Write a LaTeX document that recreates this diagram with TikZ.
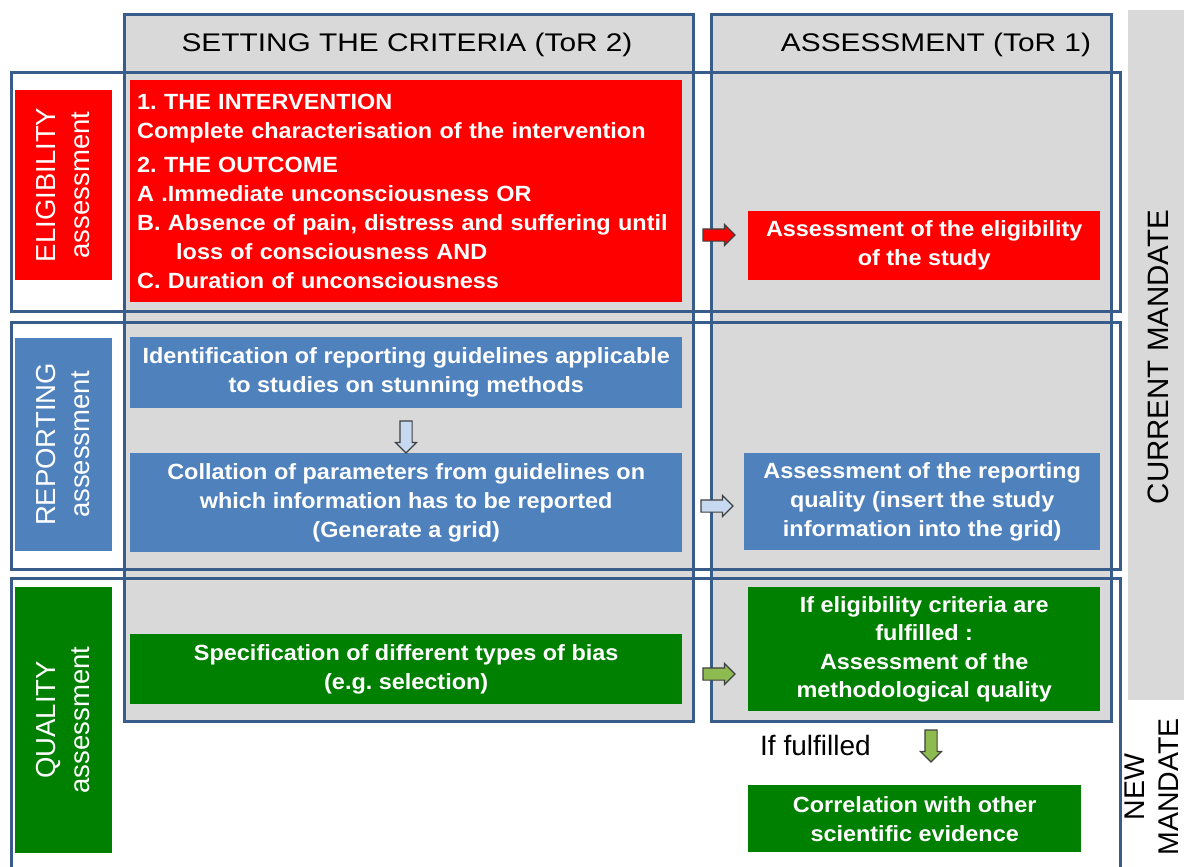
\documentclass[tikz,border=0pt]{standalone}
\usepackage{fontspec}
\setmainfont{Liberation Sans}
\newfontfamily\headfont{Liberation Sans}[FakeStretch=1.17]
\newfontfamily\boxfont{Liberation Sans}[FakeStretch=1.065]
\frenchspacing
\usetikzlibrary{shapes.arrows}
\definecolor{framecol}{HTML}{385D8A}
\definecolor{panelgray}{HTML}{D9D9D9}
\definecolor{eligred}{HTML}{FF0000}
\definecolor{repblue}{HTML}{4F81BD}
\definecolor{qualgreen}{HTML}{008000}
\definecolor{arrowblue}{HTML}{C6D9F1}
\definecolor{arrowgreen}{HTML}{8DBB4F}
\definecolor{arrowedge}{HTML}{404040}
\tikzset{
  colframe/.style={draw=framecol, line width=3pt, fill=panelgray, inner sep=0pt, anchor=north west},
  rowframe/.style={draw=framecol, line width=3pt, inner sep=0pt, anchor=north west},
  stagebox/.style={text=white, inner sep=0pt, align=center, anchor=north west,
     font=\boxfont\bfseries\fontsize{22}{29}\selectfont},
  sidelabel/.style={rotate=90, text=white, inner sep=0pt, align=center,
     font=\fontsize{27.5}{34}\selectfont},
  headtext/.style={font=\headfont\fontsize{25.5}{30}\selectfont},
  mandatetext/.style={rotate=90, align=center, inner sep=0pt, font=\fontsize{29.5}{35}\selectfont},
  blockarrow/.style={single arrow, draw=arrowedge, line width=1.2pt, inner xsep=0pt,
     inner ysep=5.5pt, single arrow head extend=4.5pt, minimum height=32pt},
}
\begin{document}
\begin{tikzpicture}[x=1pt,y=-1pt]
\useasboundingbox (0,0) rectangle (1184,867);
\clip (0,0) rectangle (1184,867);

% mandate strip on the right
\node[fill=panelgray, inner sep=0pt, anchor=north west, minimum width=60, minimum height=690] (curstrip) at (1128,10) {};
\node[mandatetext] (curlabel) at (1158,357) {CURRENT MANDATE};
\node[mandatetext, font=\fontsize{28.5}{34}\selectfont] (newlabel) at (1152,787) {NEW\\MANDATE};

% the two columns
\node[colframe, minimum width=569, minimum height=707] (critcol) at (123,13) {};
\node[colframe, minimum width=400, minimum height=707] (assesscol) at (710,13) {};
\node[headtext] (crithead) at (407,45) {SETTING THE CRITERIA (ToR 2)};
\node[headtext] (assesshead) at (936,45) {ASSESSMENT (ToR 1)};

% the three rows
\node[rowframe, minimum width=1109, minimum height=239] (eligrow) at (10,71) {};
\node[rowframe, minimum width=1109, minimum height=247] (reprow) at (10,321) {};
\node[rowframe, minimum width=1109, minimum height=320] (qualrow) at (10,577) {};

% row labels
\node[sidelabel, fill=eligred, minimum width=190, minimum height=97] (eliglabel) at (63.5,185) {ELIGIBILITY\\assessment};
\node[sidelabel, fill=repblue, minimum width=213, minimum height=97] (replabel) at (63.5,444.5) {REPORTING\\assessment};
\node[sidelabel, fill=qualgreen, minimum width=266, minimum height=97] (quallabel) at (63.5,720) {QUALITY\\assessment};

% eligibility row
\node[stagebox, fill=eligred, align=left, text width=538, minimum width=552, minimum height=222] (eligcrit) at (130,80)
 {1. THE INTERVENTION\\
  Complete characterisation of the intervention\\[5pt]
  2. THE OUTCOME\\
  A .Immediate unconsciousness OR\\
  B. Absence of pain, distress and suffering until\\
  \hspace*{39pt}loss of consciousness AND\\
  C. Duration of unconsciousness};
\node[stagebox, fill=eligred, minimum width=352, minimum height=69] (eligassess) at (748,211)
 {Assessment of the eligibility\\of the study};
\node[blockarrow, fill=eligred] (eligarrow) at (716,235) {};

% reporting row
\node[stagebox, fill=repblue, minimum width=552, minimum height=71] (repguide) at (130,337)
 {Identification of reporting guidelines applicable\\to studies on stunning methods};
\node[stagebox, fill=repblue, minimum width=552, minimum height=99] (repgrid) at (130,453)
 {Collation of parameters from guidelines on\\which information has to be reported\\(Generate a grid)};
\node[stagebox, fill=repblue, minimum width=356, minimum height=97] (repassess) at (744,453)
 {Assessment of the reporting\\quality (insert the study\\information into the grid)};
\node[blockarrow, fill=arrowblue, rotate=-90] (repdown) at (406,434) {};
\node[blockarrow, fill=arrowblue] (repright) at (714,506) {};

% quality row
\node[stagebox, fill=qualgreen, font=\boxfont\bfseries\fontsize{22}{28.5}\selectfont, minimum width=352, minimum height=124] (qualassess) at (748,587)
 {If eligibility criteria are\\fulfilled :\\Assessment of the\\methodological quality};
\node[stagebox, fill=qualgreen, minimum width=552, minimum height=70] (qualbias) at (130,634)
 {Specification of different types of bias\\(e.g. selection)};
\node[blockarrow, fill=arrowgreen] (qualright) at (716,674) {};
\node[blockarrow, fill=arrowgreen, rotate=-90] (qualdown) at (931,743) {};
\node[font=\fontsize{28}{32}\selectfont, anchor=west, inner sep=0pt] (fulfilled) at (760,745) {If fulfilled};
\node[stagebox, fill=qualgreen, minimum width=333, minimum height=67] (qualcorr) at (748,785)
 {Correlation with other\\scientific evidence};
\end{tikzpicture}
\end{document}
